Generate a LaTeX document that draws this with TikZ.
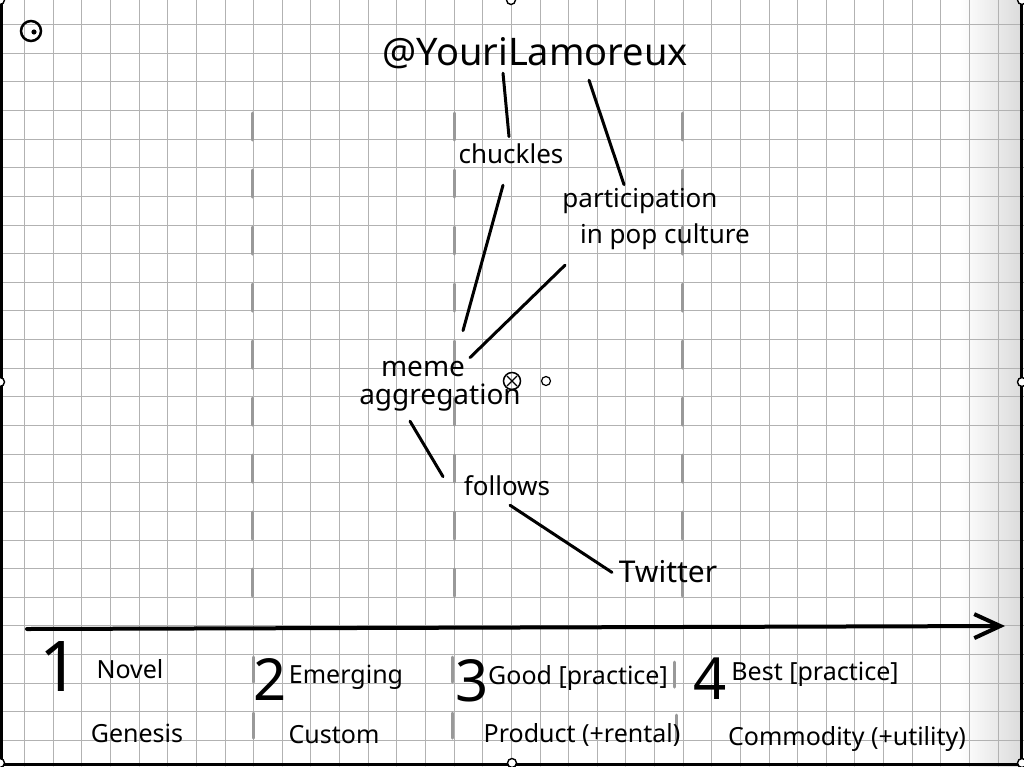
\documentclass[tikz,border=0pt]{standalone}
\usepackage{fontspec}
\setmainfont{Noto Sans}
\usetikzlibrary{positioning,calc,arrows.meta}

\begin{document}
\begin{tikzpicture}[x=1pt, y=-1pt, line cap=round,
  every edge/.append style={line width=3pt},
  word/.style={anchor=base, inner sep=0pt, text height=0.72em, text depth=0.2em, font=\fontsize{26}{28}\selectfont},
  stage/.style={anchor=base, inner sep=0pt, font=\fontsize{25}{27}\selectfont},
  num/.style={inner sep=0pt, text height=0.72em, text depth=0pt, font=\fontsize{58}{60}\selectfont},
  divider/.style={draw=black!40, line width=3pt},
  gridline/.style={draw=black!30, line width=1pt},
  grip/.style={circle, draw, fill=white, line width=1.4pt, minimum size=9pt, inner sep=0pt}]

\useasboundingbox (0,0) rectangle (1024,766);
\fill[white] (0,0) rectangle (1024,766);
\shade[left color=white, right color=black!14] (960,0) rectangle (1021,766);

% grid paper, one square every 28.6
\foreach \x in {24,53,81,110,139,167,196,225,253,282,310,339,368,396,425,454,482,511,540,568,597,625,654,683,711,740,769,797,826,854,883,912,940,969,998}
  \draw[gridline] (\x,0) -- (\x,766);
\foreach \y in {24,53,81,110,139,167,196,225,253,282,310,339,368,396,425,454,482,511,540,568,597,625,654,683,711,740}
  \draw[gridline] (0,\y) -- (1024,\y);

% stage dividers
\foreach \x in {252,454,682}
  \draw[divider, dash pattern=on 27pt off 30pt] (\x,113) -- (\x,600);
\foreach \x/\y in {253/657,253/713,452/657,452/713,674/662,676/715}
  \draw[divider] (\x,\y) -- ++(0,25);

% value chain
\node[word, font=\fontsize{38}{40}\selectfont] (handle) at (535,65) {@YouriLamoreux};
\node[word] (chuckles) at (511,163) {chuckles};
\node[word] (particip) at (640,207) {participation};
\node[word] (popculture) at (665,243) {in pop culture};
\node[word, font=\fontsize{28}{30}\selectfont] (meme) at (423,376) {meme};
\node[word, font=\fontsize{28}{30}\selectfont] (aggreg) at (440,404) {aggregation};
\node[word] (follows) at (507,495) {follows};
\node[word, font=\fontsize{30}{32}\selectfont] (twitter) at (668,582) {Twitter};

\path
    ($(handle.south)+(-32,6)$) edge ($(chuckles.north)+(-2,-19)$)
    ($(handle.south)+(54,13)$) edge ($(particip.north)+(-16,-15)$)
    ($(chuckles.south)+(-8,20)$) edge ($(meme.north)+(40,-38)$)
    ($(popculture.south)+(-100,20)$) edge ($(meme.north)+(47,-11)$)
    ($(aggreg.south)+(-30,15)$) edge ($(follows.north)+(-64,-11)$)
    ($(follows.south)+(3,8)$) edge ($(twitter.center)+(-56,-7)$);

% evolution axis
\coordinate (axis-start) at (27,629);
\coordinate (axis-end) at (1005,626);
\draw[line width=4pt, -{Straight Barb[length=26pt, width=24pt]}] (axis-start) -- (axis-end);

\node[num, font=\fontsize{70}{72}\selectfont] (n1) at (60,688) {1};
\node[stage] (novel) at (130,678) {Novel};
\node[stage] (genesis) at (137,742) {Genesis};
\node[num] (n2) at (270,697) {2};
\node[stage] (emerging) at (346,683) {Emerging};
\node[stage] (custom) at (334,743) {Custom};
\node[num] (n3) at (472,698) {3};
\node[stage] (good) at (578,684) {Good [practice]};
\node[stage] (product) at (582,742) {Product (+rental)};
\node[num] (n4) at (710,696) {4};
\node[stage] (best) at (815,680) {Best [practice]};
\node[stage] (commodity) at (847,745) {Commodity (+utility)};

% marks on the page
\draw[line width=2.5pt] (31,31) circle (10);
\fill (34,32) circle (2.6);
\draw[line width=1.5pt] (512,381) circle (8.5);
\draw[line width=1.3pt] (507,376) -- (517,386) (517,376) -- (507,386);
\draw[line width=1.2pt] (546,381) circle (4.5);

% page frame and grips
\draw[line width=3pt] (1,0) -- (1,764) -- (1021,764) -- (1021,0);
\foreach \p in {(0,0),(511,0),(1022,0),(0,382),(1022,382),(0,763),(512,763),(1022,763)}
  \node[grip] at \p {};
\end{tikzpicture}
\end{document}
